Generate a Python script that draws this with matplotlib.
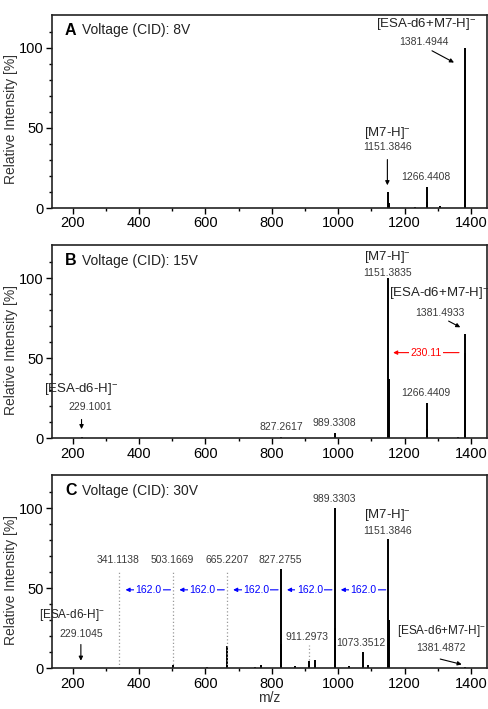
import numpy as np
import matplotlib
matplotlib.use("Agg")
import matplotlib.pyplot as plt

plt.rcParams['font.family'] = ['Liberation Sans', 'DejaVu Sans']
plt.rcParams['mathtext.default'] = 'regular'

# peak lists (m/z, relative intensity)
mz_a = [1151.38, 1152.39, 1230.0, 1266.44, 1267.45, 1305.0, 1381.49, 1382.50]
int_a = [10, 3, 0.4, 13, 4, 1.0, 100, 86]

mz_b = [229.10, 827.26, 989.33, 1075.0, 1151.38, 1152.39, 1230.0,
        1266.44, 1267.45, 1360.0, 1381.49, 1382.50]
int_b = [0.8, 0.8, 3, 0.5, 100, 37, 0.5, 22, 6, 1, 65, 53]

mz_c = [229.10, 341.11, 503.17, 605.0, 665.22, 666.23, 710.0, 750.0, 767.0,
        827.28, 828.28, 870.0, 911.30, 929.3, 989.33, 990.33, 1033.0,
        1073.35, 1091.0, 1151.38, 1152.39, 1381.49]
int_c = [0.5, 0.5, 2, 0.8, 14, 3, 0.5, 1, 2, 62, 15, 1.2, 4.5, 5, 100, 25,
         1.3, 10, 2, 81, 30, 0.8]

titles = ['Voltage (CID): 8V', 'Voltage (CID): 15V', 'Voltage (CID): 30V']
letters = ['A', 'B', 'C']

# 162.0 losses in panel C
loss_c = [1151.38, 989.33, 827.28, 665.22, 503.17, 341.11]

fig = plt.figure(figsize=(4.89, 7.09), dpi=100)
bottoms = [0.7066, 0.3818, 0.0574]
axes = [fig.add_axes([0.1063, b, 0.8896, 0.2722]) for b in bottoms]

num_kw = dict(ha='center', va='center', fontsize=7.5, color='#3a3a3a')
ion_kw = dict(ha='center', va='center', fontsize=9.5, color='#222222')
arr = dict(arrowstyle='-|>', color='black', lw=0.8, mutation_scale=6)

for ax, mz, inten, let, tit in zip(axes, [mz_a, mz_b, mz_c], [int_a, int_b, int_c], letters, titles):
    ax.vlines(mz, 0, inten, color='black', lw=1.4)
    ax.set_xlim(138, 1448)
    ax.set_ylim(0, 120.5)
    ax.set_xticks(np.arange(200, 1401, 200))
    ax.set_xticks(np.arange(300, 1401, 200), minor=True)
    ax.set_yticks([0, 50, 100])
    ax.set_yticks([v for v in range(0, 120, 10) if v % 50], minor=True)
    ax.tick_params(which='major', direction='out', length=4, width=1, labelsize=10.5, pad=2)
    ax.tick_params(which='minor', direction='out', length=2.5, width=1)
    for s in ax.spines.values():
        s.set_linewidth(1.2)
        s.set_color('#222222')
    ax.set_ylabel('Relative Intensity [%]', fontsize=10, color='#333333')
    ax.yaxis.set_label_coords(-0.077, 0.46)
    ax.text(0.03, 0.92, let, transform=ax.transAxes, fontsize=11.5, fontweight='bold',
            ha='left', va='center')
    ax.text(0.068, 0.92, tit, transform=ax.transAxes, fontsize=10,
            ha='left', va='center', color='#222222')

# panel A
ax = axes[0]
ax.text(1265, 114.6, '[ESA-d6+M7-H]$^{-}$', **ion_kw)
ax.text(1259, 103.5, '1381.4944', **num_kw)
ax.annotate('', xy=(1356, 90), xytext=(1275, 99), arrowprops=arr)
ax.text(1147, 47, '[M7-H]$^{-}$', **ion_kw)
ax.text(1147, 37.8, '1151.3846', **num_kw)
ax.annotate('', xy=(1148, 12.5), xytext=(1148, 32), arrowprops=arr)
ax.text(1264, 19.3, '1266.4408', **num_kw)

# panel B
ax = axes[1]
ax.text(1147, 113.5, '[M7-H]$^{-}$', **ion_kw)
ax.text(1147, 103.5, '1151.3835', **num_kw)
ax.text(1305, 91, '[ESA-d6+M7-H]$^{-}$', **ion_kw)
ax.text(1305, 78.5, '1381.4933', **num_kw)
ax.annotate('', xy=(1375, 68.5), xytext=(1325, 74), arrowprops=arr)
ax.annotate('', xy=(1157, 53.5), xytext=(1372, 53.5),
            arrowprops=dict(arrowstyle='-|>', color='red', lw=0.8, mutation_scale=6))
ax.text(1264, 53.5, '230.11', ha='center', va='center', fontsize=7.5, color='red',
        bbox=dict(facecolor='white', edgecolor='none', pad=1))
ax.text(227, 30.6, '[ESA-d6-H]$^{-}$', **ion_kw)
ax.text(252, 19.8, '229.1001', **num_kw)
ax.annotate('', xy=(227, 4), xytext=(227, 13.5), arrowprops=arr)
ax.text(828, 7.3, '827.2617', **num_kw)
ax.text(989, 9.8, '989.3308', **num_kw)
ax.text(1264, 28, '1266.4409', **num_kw)

# panel C
ax = axes[2]
ax.text(989, 106, '989.3303', **num_kw)
ax.text(1147, 95.8, '[M7-H]$^{-}$', **ion_kw)
ax.text(1147, 86, '1151.3846', **num_kw)
for lab, xt in zip(['341.1138', '503.1669', '665.2207', '827.2755'],
                   [337, 500, 665, 826]):
    ax.text(xt, 67.7, lab, **num_kw)
for m in [341.11, 503.17, 665.22]:
    ax.vlines(m, 0, 60, color='#999999', lw=0.9, linestyles=(0, (1, 1.8)))
ax.vlines(911.30, 5, 14.6, color='#999999', lw=0.9, linestyles=(0, (1, 1.8)))
for hi, lo in zip(loss_c[:-1], loss_c[1:]):
    ax.annotate('', xy=(lo + 10, 49), xytext=(hi, 49),
                arrowprops=dict(arrowstyle='-|>', color='blue', lw=0.8, mutation_scale=6))
    ax.text((hi + lo) / 2 + 6, 49, '162.0', ha='center', va='center', fontsize=7.5,
            color='blue', bbox=dict(facecolor='white', edgecolor='none', pad=1))
ax.text(197, 33.3, '[ESA-d6-H]$^{-}$', **dict(ion_kw, fontsize=8.5))
ax.text(227, 21.4, '229.1045', **num_kw)
ax.annotate('', xy=(225, 3), xytext=(225, 16.6), arrowprops=arr)
ax.text(905, 19.8, '911.2973', **num_kw)
ax.text(1069, 16, '1073.3512', **num_kw)
ax.text(1310, 23.5, '[ESA-d6+M7-H]$^{-}$', **dict(ion_kw, fontsize=8.5))
ax.text(1310, 12.5, '1381.4872', **num_kw)
ax.annotate('', xy=(1380, 2), xytext=(1299, 6.2), arrowprops=arr)
ax.set_xlabel('m/z', fontsize=10, labelpad=0, color='#333333')

fig.savefig('out.png', dpi=100)
